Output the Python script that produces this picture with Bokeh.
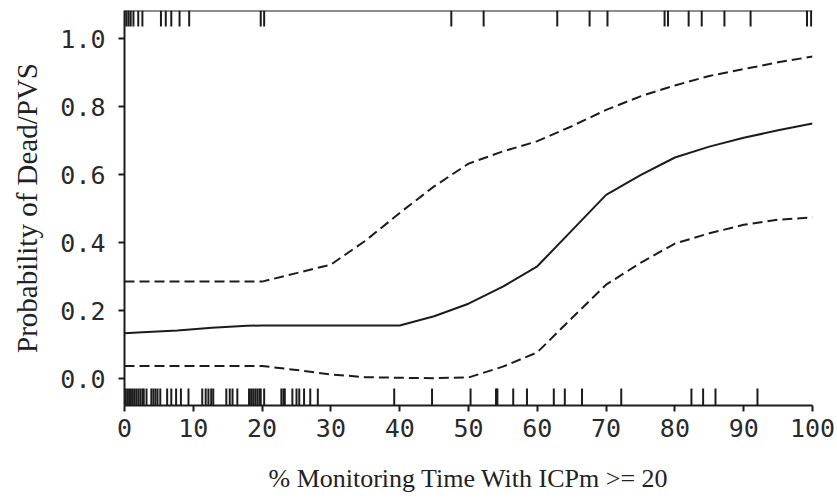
from bokeh.plotting import figure
from bokeh.models import Range1d, FixedTicker, PrintfTickFormatter, Span
from bokeh.embed import file_html
from bokeh.resources import INLINE

# ---- data ----
fit_x = [0, 2.6, 7.7, 12.7, 17.8, 20, 30, 40, 45, 50, 55, 60, 65, 70, 75, 80, 85, 90, 95, 100]
fit_y = [0.133, 0.136, 0.141, 0.149, 0.155, 0.156, 0.156, 0.156, 0.183, 0.22, 0.27, 0.33,
         0.435, 0.54, 0.598, 0.65, 0.682, 0.708, 0.73, 0.75]

upper_x = [0, 20, 25, 30, 35, 40, 45, 50, 55, 60, 65, 70, 75, 80, 85, 90, 95, 100]
upper_y = [0.285, 0.285, 0.31, 0.335, 0.405, 0.487, 0.565, 0.632, 0.668, 0.698, 0.742,
           0.79, 0.83, 0.862, 0.89, 0.91, 0.93, 0.947]

lower_x = [0, 20, 25, 30, 35, 40, 45, 50, 55, 60, 65, 70, 75, 80, 85, 90, 95, 100]
lower_y = [0.037, 0.037, 0.025, 0.012, 0.004, 0.002, 0.001, 0.003, 0.035, 0.077, 0.177,
           0.276, 0.34, 0.397, 0.427, 0.452, 0.467, 0.474]

# observations with outcome = 1 (top rug) and outcome = 0 (bottom rug)
rug_top = [0, 0.3, 0.6, 0.9, 1.3, 2.0, 2.6, 5.3, 6.0, 6.8, 8.0, 9.4, 19.8, 20.3, 47.5,
           52.2, 62.9, 67.6, 70.2, 78.5, 79.0, 82.0, 83.9, 87.2, 91.0, 99.2, 99.8]
rug_bottom = [0, 0.2, 0.5, 0.8, 1.1, 1.4, 1.7, 2.0, 2.3, 2.6, 2.8, 3.2, 3.9, 4.2, 4.5, 4.8,
              5.2, 6.2, 6.8, 7.5, 8.2, 9.3, 11.3, 11.8, 12.2, 12.6, 12.9, 14.8, 15.3, 15.7,
              16.4, 18.1, 18.4, 18.7, 19.0, 19.3, 19.6, 19.8, 20.3, 22.8, 23.1, 23.3, 24.4,
              25.0, 25.4, 26.1, 27.0, 28.1, 39.2, 44.7, 50.3, 54.0, 54.2, 56.5, 58.5, 62.4,
              64.0, 66.5, 72.2, 82.4, 84.1, 85.9, 92.0]

x_ticks = [0, 10, 20, 30, 40, 50, 60, 70, 80, 90, 100]
y_ticks = [0.0, 0.2, 0.4, 0.6, 0.8, 1.0]
x_label = "% Monitoring Time With ICPm >= 20"
y_label = "Probability of Dead/PVS"

# ---- layout ----
Y0, Y1 = -0.0794, 1.0824
ink = "#1c1c1c"

p = figure(width=837, height=498, output_backend="svg", toolbar_location=None,
           x_range=Range1d(0, 100), y_range=Range1d(Y0, Y1),
           min_border_left=124, min_border_right=25, min_border_top=10, min_border_bottom=93)
p.background_fill_color = "white"
p.border_fill_color = "white"
p.outline_line_color = None
p.grid.visible = False

for ax in (p.xaxis[0], p.yaxis[0]):
    ax.axis_line_color = ink
    ax.axis_line_width = 2
    ax.major_tick_line_color = ink
    ax.major_tick_line_width = 2
    ax.major_tick_in = 0
    ax.major_tick_out = 6
    ax.minor_tick_line_color = None
    ax.major_label_text_font = "DejaVu Sans Mono"
    ax.major_label_text_font_size = "25px"
    ax.major_label_text_color = "#2a2a2a"
    ax.axis_label_text_font = "Liberation Serif"
    ax.axis_label_text_font_style = "normal"
    ax.axis_label_text_color = "#222222"

p.xaxis.axis_label_text_font_size = "26px"
p.yaxis.axis_label_text_font_size = "29px"
p.xaxis.ticker = FixedTicker(ticks=x_ticks)
p.yaxis.ticker = FixedTicker(ticks=y_ticks)
p.yaxis.formatter = PrintfTickFormatter(format="%.1f")
p.xaxis.axis_label = x_label
p.yaxis.axis_label = y_label
p.xaxis.major_label_standoff = 7
p.yaxis.major_label_standoff = 13
p.xaxis.axis_label_standoff = 24
p.yaxis.axis_label_standoff = 14

# top frame line
p.add_layout(Span(location=Y1, dimension="width", line_color=ink, line_width=2))

# curves
p.line(fit_x, fit_y, line_color=ink, line_width=2)
p.line(upper_x, upper_y, line_color=ink, line_width=2, line_dash="10 5")
p.line(lower_x, lower_y, line_color=ink, line_width=2, line_dash="10 5")

# rugs
rug_len = 0.047
p.segment(x0=rug_top, x1=rug_top, y0=[Y1] * len(rug_top), y1=[Y1 - rug_len] * len(rug_top),
          line_color=ink, line_width=2)
p.segment(x0=rug_bottom, x1=rug_bottom, y0=[Y0] * len(rug_bottom),
          y1=[Y0 + rug_len + 0.003] * len(rug_bottom), line_color=ink, line_width=2)

open("out.html", "w").write(file_html(p, INLINE))
